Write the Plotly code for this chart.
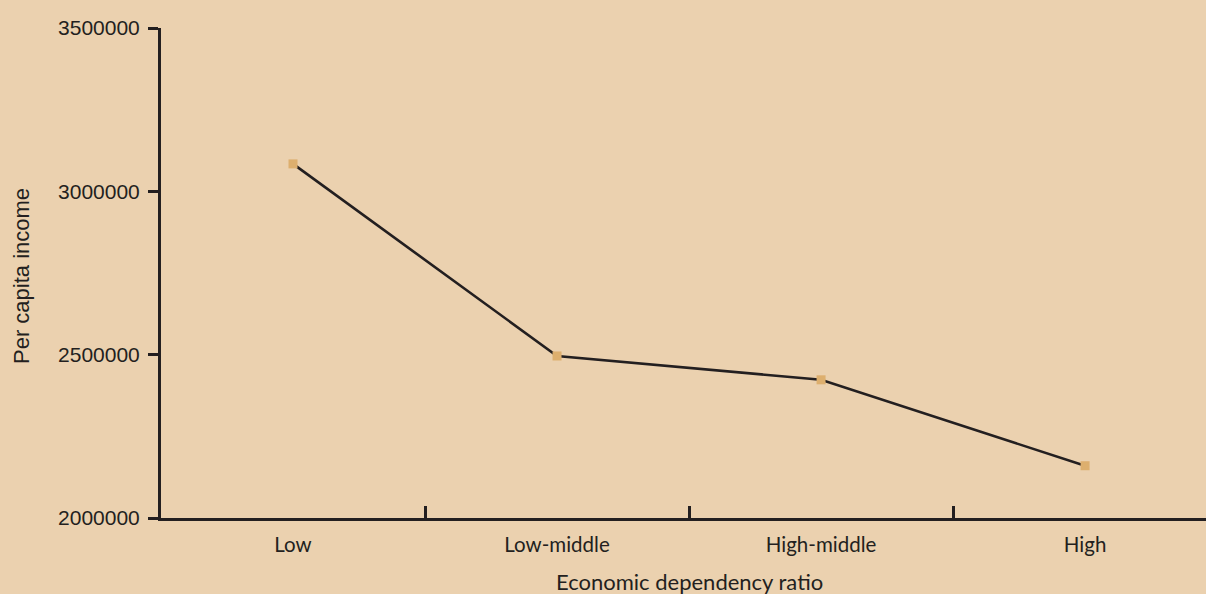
import plotly.graph_objects as go

# Per capita income by economic dependency ratio group
categories = ["Low", "Low-middle", "High-middle", "High"]
per_capita_income = [3084000, 2496000, 2423000, 2160000]

y_tick_values = [2000000, 2500000, 3000000, 3500000]
y_tick_labels = ["2000000", "2500000", "3000000", "3500000"]

BG = "#EBD1AF"
INK = "#231F20"
MARKER = "#DDAF6E"

fig = go.Figure()
fig.add_trace(go.Scatter(
    x=categories,
    y=per_capita_income,
    mode="lines+markers",
    line=dict(color=INK, width=2.6),
    marker=dict(symbol="square", size=9, color=MARKER, line=dict(width=0)),
    showlegend=False,
    hoverinfo="x+y",
))

fig.update_layout(
    width=1206,
    height=594,
    margin=dict(l=161, r=0, t=28, b=76),
    paper_bgcolor=BG,
    plot_bgcolor=BG,
    font=dict(family="Liberation Sans, Arial, sans-serif", color=INK),
)

fig.update_xaxes(
    type="category",
    range=[-0.5, 3.458],
    showgrid=False,
    zeroline=False,
    showline=True,
    linecolor=INK,
    linewidth=3,
    ticks="inside",
    tickson="boundaries",
    ticklen=12,
    tickwidth=2.5,
    tickcolor=INK,
    ticklabelstandoff=6,
    tickfont=dict(family="Lato, sans-serif", size=20.5, color=INK),
)

fig.update_yaxes(
    range=[2000000, 3500000],
    tickvals=y_tick_values,
    ticktext=y_tick_labels,
    showgrid=False,
    zeroline=False,
    showline=True,
    linecolor=INK,
    linewidth=3,
    ticks="outside",
    ticklen=10,
    tickwidth=2.5,
    tickcolor=INK,
    ticklabelstandoff=4,
    tickfont=dict(family="Liberation Sans, Arial, sans-serif", size=21, color=INK),
)

# Vertical axis title
fig.add_annotation(
    text="Per capita income",
    xref="paper", x=0, xshift=-140,
    yref="paper", y=0.5, yshift=-3,
    textangle=-90,
    showarrow=False,
    xanchor="center", yanchor="middle",
    font=dict(family="Liberation Sans, Arial, sans-serif", size=22, color=INK),
)

# Horizontal axis title centred under the full category band
fig.add_annotation(
    text="Economic dependency ratio",
    xref="x", x=1.5, yref="paper", y=0, yshift=-63,
    showarrow=False,
    xanchor="center", yanchor="middle",
    font=dict(family="Lato, sans-serif", size=22, color=INK),
)

fig.write_html("out.html")
